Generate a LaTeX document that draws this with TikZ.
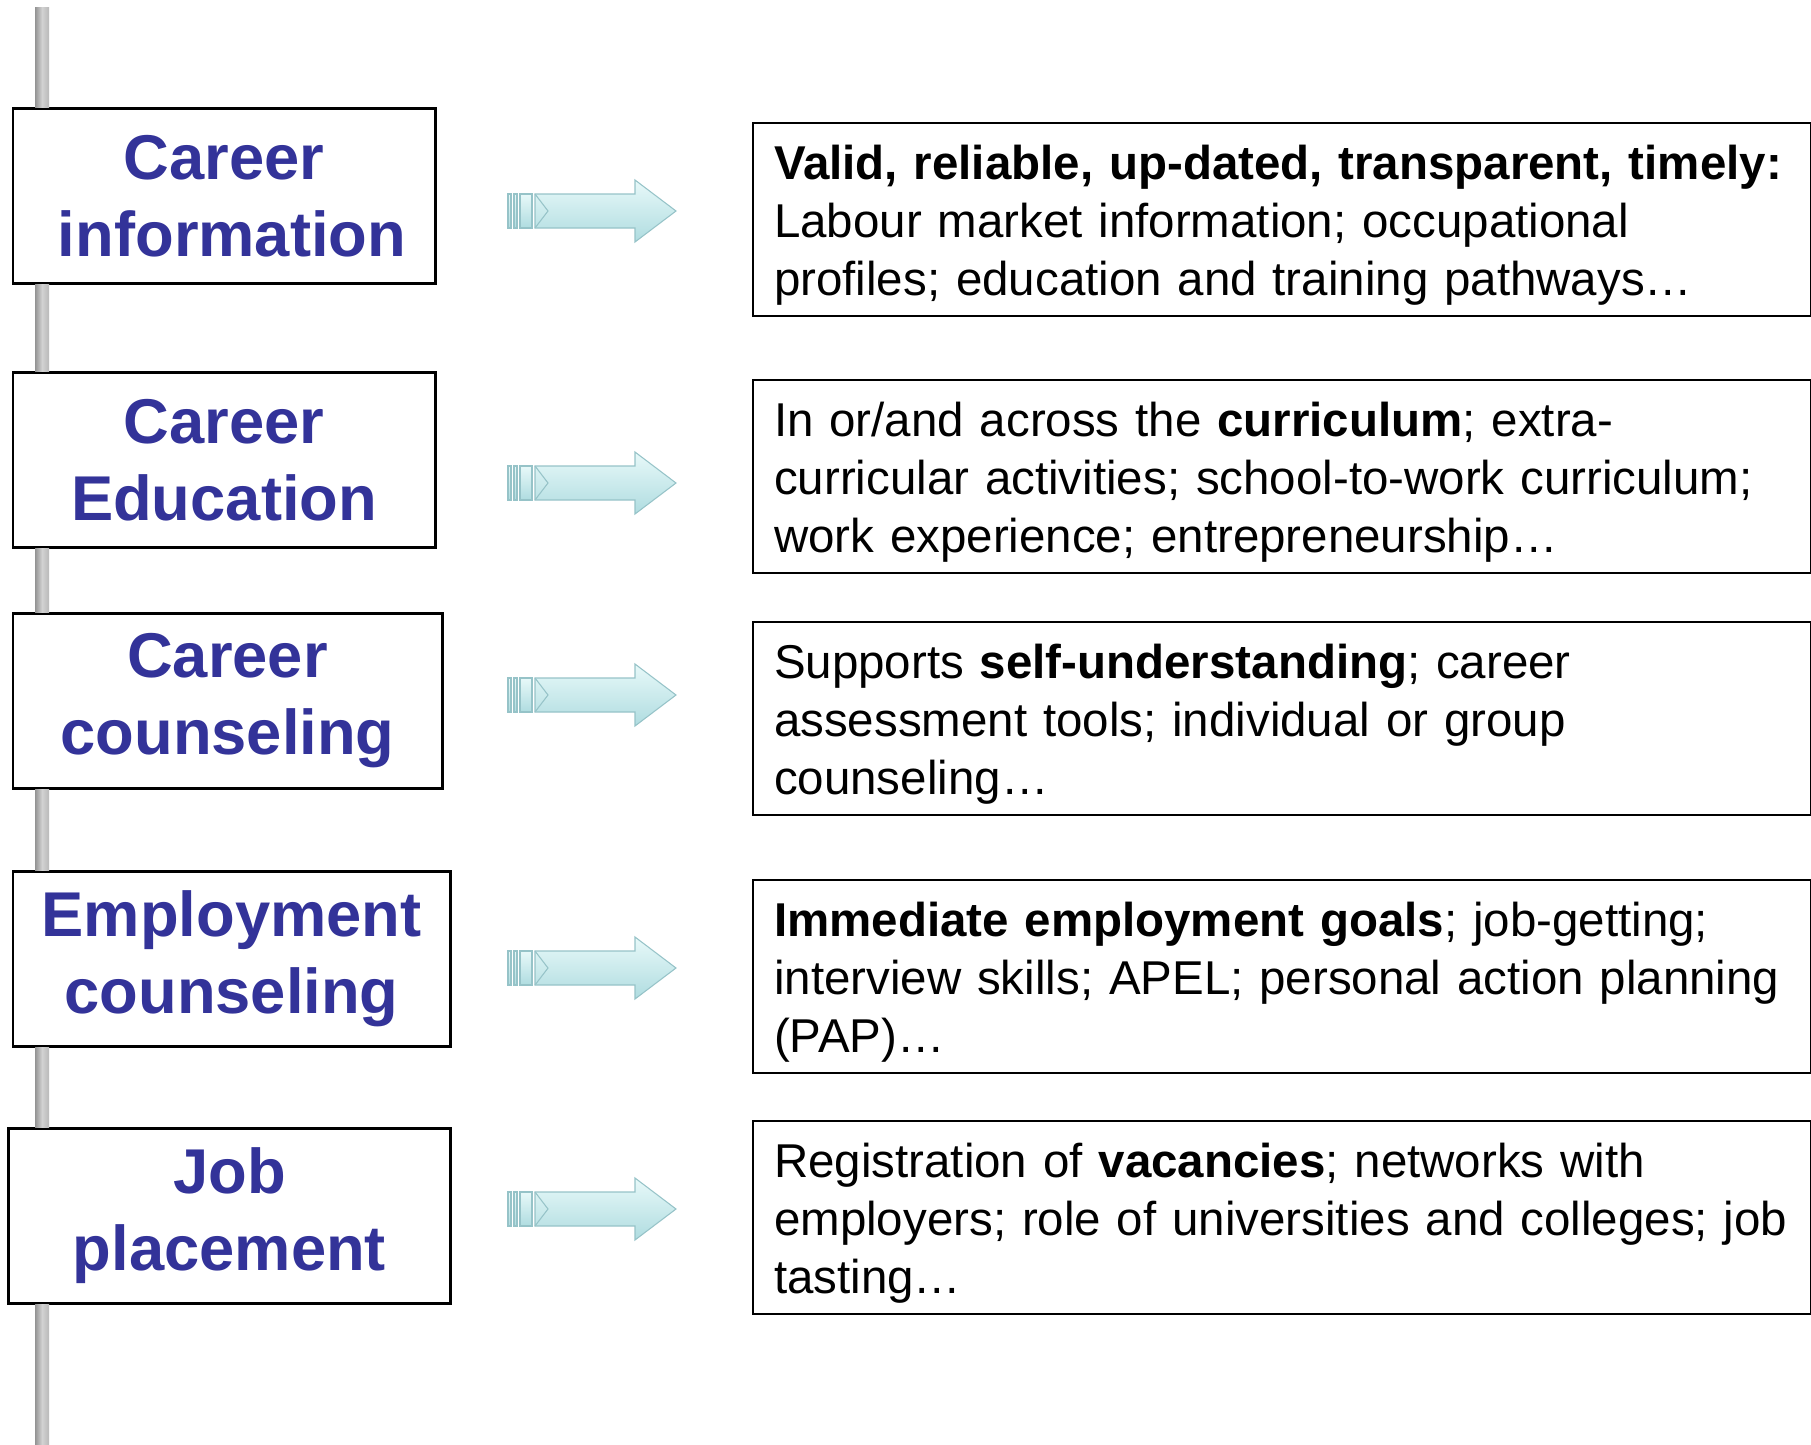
\documentclass[tikz,border=0pt]{standalone}
\usepackage{fontspec}
\setmainfont{Liberation Sans}

% Define colors
\definecolor{careerblue}{RGB}{51,51,153}
\definecolor{arrowlight}{RGB}{232,249,249}
\definecolor{arrowdark}{RGB}{175,220,224}
\definecolor{arrowedge}{RGB}{150,195,200}

% a little more room above the first line of a note
\newcommand{\topgap}{\rule{0pt}{13pt}}

\tikzset{
  headbox/.style={draw, line width=0.8pt, fill=white, anchor=north west, inner sep=0pt,
    align=center, text=careerblue, minimum height=1.75cm,
    font=\fontsize{18pt}{21.9pt}\selectfont\bfseries},
  notebox/.style={draw, line width=0.6pt, fill=white, anchor=north west, inner xsep=0.21cm,
    inner ysep=0pt, text width=10.15cm, align=left, minimum height=1.93cm,
    font=\fontsize{13.5pt}{16.4pt}\selectfont},
  barshade/.style={left color=gray!85, right color=gray!55, middle color=gray!35},
  arrowshade/.style={top color=arrowlight, bottom color=arrowdark, draw=arrowedge, line width=0.3pt},
  fatarrow/.pic={
    \shade[arrowshade] (27,-17) -- (127,-17) -- (127,-31) -- (168,0) -- (127,31) -- (127,17) -- (27,17) -- cycle;
    \shade[arrowshade] (0,-17) rectangle (3,17);
    \shade[arrowshade] (6,-17) rectangle (9,17);
    \shade[arrowshade] (12,-17) rectangle (24,17);
    \draw[arrowedge, line width=0.3pt] (27,-17) -- (40,0) -- (27,17);
  }
}

\begin{document}
\begin{tikzpicture}[x=0.01cm, y=-0.01cm]

    \useasboundingbox (0,0) rectangle (1811,1445);

    % bar ends
    \coordinate (barTop) at (35,7);
    \coordinate (barBot) at (49,1445);

    % left column
    \node[headbox, minimum width=4.22cm] (cI) at (11.5,107) {Career\\\hspace*{0.16cm}information};
    \node[headbox, minimum width=4.22cm] (cE) at (11.5,371) {Career\\Education};
    \node[headbox, minimum width=4.29cm] (cC) at (11.5,612) {Career\\counseling};
    \node[headbox, minimum width=4.37cm] (eC) at (11.5,870) {Employment\\counseling};
    \node[headbox, minimum width=4.42cm] (jP) at (7,1127) {Job\\placement};

    %-------------
    % the bar between the boxes
    \shade[barshade] (barTop) rectangle (cI.north -| barBot);
    \shade[barshade] (cI.south -| barTop) rectangle (cE.north -| barBot);
    \shade[barshade] (cE.south -| barTop) rectangle (cC.north -| barBot);
    \shade[barshade] (cC.south -| barTop) rectangle (eC.north -| barBot);
    \shade[barshade] (eC.south -| barTop) rectangle (jP.north -| barBot);
    \shade[barshade] (jP.south -| barTop) rectangle (barBot);

    %-------------
    % right column
    \node[notebox] (nI) at (752,122) {\topgap\textbf{Valid, reliable, up-dated, transparent, timely:}\\
      Labour market information; occupational\\
      profiles; education and training pathways…};
    \node[notebox] (nE) at (752,379) {\topgap In or/and across the \textbf{curriculum}; extra-\\
      curricular activities; school-to-work curriculum;\\
      work experience; entrepreneurship…};
    \node[notebox] (nC) at (752,621) {\topgap Supports \textbf{self-understanding}; career\\
      assessment tools; individual or group\\
      counseling…};
    \node[notebox] (nM) at (752,879) {\topgap\textbf{Immediate employment goals}; job-getting;\\
      interview skills; APEL; personal action planning\\
      (PAP)…};
    \node[notebox] (nJ) at (752,1120) {\topgap Registration of \textbf{vacancies}; networks with\\
      employers; role of universities and colleges; job\\
      tasting…};

    %-------------
    % arrows
    \coordinate (aI) at (508,211);
    \coordinate (aE) at (508,483);
    \coordinate (aC) at (508,695);
    \coordinate (aM) at (508,968);
    \coordinate (aJ) at (508,1209);
    \foreach \a in {aI,aE,aC,aM,aJ}
      \pic at (\a) {fatarrow};

\end{tikzpicture}
\end{document}
